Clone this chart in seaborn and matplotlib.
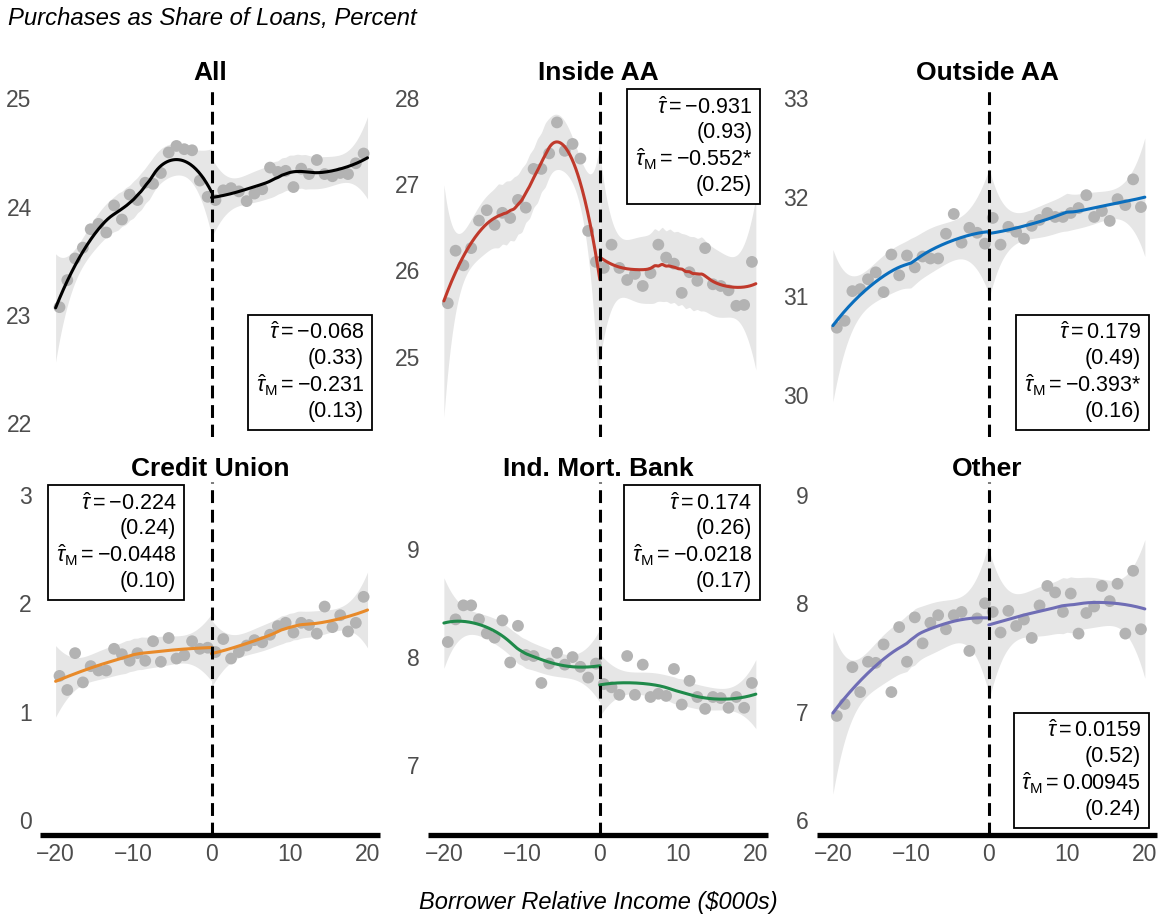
import numpy as np
import pandas as pd
import matplotlib
matplotlib.use("Agg")
import matplotlib.pyplot as plt
import seaborn as sns

# ---- data -----------------------------------------------------------------
INCOME_BINS = [-19.5, -18.5, -17.5, -16.5, -15.5, -14.5, -13.5, -12.5, -11.5, -10.5,
               -9.5, -8.5, -7.5, -6.5, -5.5, -4.5, -3.5, -2.5, -1.5, -0.5,
               0.5, 1.5, 2.5, 3.5, 4.5, 5.5, 6.5, 7.5, 8.5, 9.5,
               10.5, 11.5, 12.5, 13.5, 14.5, 15.5, 16.5, 17.5, 18.5, 19.5]

PANELS = ["All", "Inside AA", "Outside AA", "Credit Union", "Ind. Mort. Bank", "Other"]

SHARE_ALL = [23.07, 23.32, 23.52, 23.62, 23.79, 23.84, 23.76, 24.01, 23.88, 24.11,
             24.06, 24.22, 24.21, 24.31, 24.50, 24.56, 24.53, 24.52, 24.24, 24.09,
             24.06, 24.15, 24.17, 24.14, 24.05, 24.12, 24.16, 24.36, 24.32, 24.33,
             24.18, 24.35, 24.30, 24.43, 24.30, 24.28, 24.31, 24.30, 24.40, 24.49]
SHARE_INSIDE = [25.62, 26.23, 26.06, 26.26, 26.58, 26.70, 26.53, 26.67, 26.61, 26.82,
                26.73, 27.18, 27.18, 27.36, 27.72, 27.39, 27.47, 27.30, 26.46, 26.10,
                26.03, 26.30, 26.03, 25.89, 25.96, 25.82, 25.97, 26.30, 26.15, 26.08,
                25.74, 25.98, 25.88, 26.26, 25.84, 25.82, 25.77, 25.59, 25.60, 26.10]
SHARE_OUTSIDE = [30.68, 30.75, 31.05, 31.07, 31.17, 31.24, 31.04, 31.42, 31.21, 31.41,
                 31.29, 31.40, 31.38, 31.38, 31.63, 31.83, 31.54, 31.69, 31.64, 31.53,
                 31.79, 31.52, 31.70, 31.65, 31.58, 31.71, 31.77, 31.84, 31.80, 31.80,
                 31.84, 31.89, 32.02, 31.80, 31.86, 31.76, 31.98, 31.92, 32.18, 31.90]
SHARE_CU = [1.33, 1.20, 1.54, 1.27, 1.42, 1.38, 1.38, 1.58, 1.53, 1.47,
            1.54, 1.47, 1.65, 1.46, 1.68, 1.49, 1.52, 1.65, 1.58, 1.59,
            1.55, 1.67, 1.49, 1.55, 1.61, 1.66, 1.64, 1.71, 1.79, 1.82,
            1.73, 1.82, 1.80, 1.72, 1.97, 1.78, 1.89, 1.74, 1.82, 2.06]
SHARE_IMB = [8.14, 8.35, 8.48, 8.48, 8.35, 8.22, 8.18, 8.34, 7.95, 8.29,
             8.02, 8.01, 7.76, 7.94, 8.04, 7.93, 8.00, 7.91, 7.81, 7.94,
             7.75, 7.72, 7.65, 8.01, 7.65, 7.93, 7.63, 7.66, 7.64, 7.89,
             7.56, 7.78, 7.63, 7.52, 7.63, 7.62, 7.53, 7.63, 7.53, 7.76]
SHARE_OTHER = [6.96, 7.07, 7.41, 7.18, 7.46, 7.45, 7.62, 7.18, 7.78, 7.46,
               7.87, 7.63, 7.82, 7.89, 7.76, 7.89, 7.92, 7.56, 7.86, 8.00,
               7.92, 7.73, 7.93, 7.79, 7.85, 7.68, 7.98, 8.16, 8.10, 7.92,
               8.09, 7.72, 7.91, 7.97, 8.16, 8.02, 8.18, 7.72, 8.30, 7.76]
SHARES = [SHARE_ALL, SHARE_INSIDE, SHARE_OUTSIDE, SHARE_CU, SHARE_IMB, SHARE_OTHER]

# loess span used for each panel
SPANS = [0.8, 0.7, 1.0, 0.9, 0.95, 0.95]

# half-width of the 95% band: at x = -10 / +10, at the outer edge (x = -20 / +20)
# and at the cutoff (x = 0), for the left and right sides
BAND_MID_LEFT = [0.17, 0.37, 0.25, 0.15, 0.13, 0.25]
BAND_MID_RIGHT = [0.16, 0.43, 0.19, 0.13, 0.12, 0.25]
BAND_OUTER_LEFT = [0.50, 1.35, 0.77, 0.33, 0.42, 0.75]
BAND_INNER_LEFT = [0.40, 1.60, 0.63, 0.31, 0.34, 0.70]
BAND_INNER_RIGHT = [0.37, 1.20, 0.67, 0.31, 0.29, 0.70]
BAND_OUTER_RIGHT = [0.38, 1.00, 0.60, 0.35, 0.32, 0.64]

TAU = ["-0.068", "-0.931", "0.179", "-0.224", "0.174", "0.0159"]
TAU_SE = ["0.33", "0.93", "0.49", "0.24", "0.26", "0.52"]
TAU_M = ["-0.231", "-0.552", "-0.393", "-0.0448", "-0.0218", "0.00945"]
TAU_M_STAR = [False, True, True, False, False, False]
TAU_M_SE = ["0.13", "0.25", "0.16", "0.10", "0.17", "0.24"]
BOX_LOC = ["lower right", "upper right", "lower right", "upper left", "upper right", "lower right"]

Y_TICKS = [[22, 23, 24, 25], [25, 26, 27, 28], [30, 31, 32, 33],
           [0, 1, 2, 3], [7, 8, 9], [6, 7, 8, 9]]
Y_LIMITS = [(21.87, 25.114), (24.066, 28.143), (29.575, 33.124),
            (-0.139, 3.12), (6.35, 9.624), (5.86, 9.12)]
X_TICKS = [-20, -10, 0, 10, 20]

COLORS = ["#000000", "#C0392B", "#0A6EBD", "#E88A2A", "#1F8A4A", "#6F6DB5"]


# ---- local quadratic regression (loess) -------------------------------------
def loess_weights(x, x_eval, span, degree=2):
    x = np.asarray(x, float)
    q = min(len(x), int(np.floor(len(x) * span)))
    rows = []
    for x0 in x_eval:
        d = np.abs(x - x0)
        h = np.sort(d)[q - 1] * max(1.0001, span)
        w = np.clip(1 - (d / h) ** 3, 0, None) ** 3
        X = np.vander(x - x0, degree + 1, increasing=True)
        XtW = X.T * w
        rows.append(np.linalg.solve(XtW @ X, XtW)[0])
    return np.array(rows)


def smooth_side(x, y, lo, hi, mid, outer_x, span, band_mid, band_outer, band_inner):
    grid = np.linspace(lo, hi, 240)
    L = loess_weights(x, grid, span)
    fit = L @ np.asarray(y, float)
    prof = np.sqrt((L ** 2).sum(axis=1))
    p_mid = np.interp(mid, grid, prof)
    p_out = prof[0] if outer_x == lo else prof[-1]
    p_in = prof[-1] if outer_x == lo else prof[0]
    k_out = np.log(band_outer / band_mid) / np.log(p_out / p_mid)
    k_in = np.log(band_inner / band_mid) / np.log(p_in / p_mid)
    outer_half = np.abs(grid - outer_x) < np.abs(mid - outer_x)
    k = np.where(outer_half, k_out, k_in)
    hw = band_mid * (prof / p_mid) ** k
    return grid, fit, fit - hw, fit + hw


# ---- style ------------------------------------------------------------------
sns.set_theme(style="white")
plt.rcParams["font.family"] = ["Liberation Sans", "DejaVu Sans"]
plt.rcParams["text.color"] = "black"
plt.rcParams["mathtext.fontset"] = "custom"
plt.rcParams["mathtext.rm"] = "Liberation Sans"
plt.rcParams["mathtext.it"] = "Liberation Sans:italic"
plt.rcParams["mathtext.bf"] = "Liberation Sans:bold"

W, H = 1164, 917
fig = plt.figure(figsize=(W / 100, H / 100), dpi=100)

col_left = [40, 428.3, 817.3]
row_top = [86, 482]
row_height = [351, 353]
panel_w = 340

tick_gray = "#4D4D4D"

for i, name in enumerate(PANELS):
    r, c = divmod(i, 3)
    ax = fig.add_axes([col_left[c] / W, 1 - (row_top[r] + row_height[r]) / H,
                       panel_w / W, row_height[r] / H])
    x = np.array(INCOME_BINS)
    y = np.array(SHARES[i])
    df = pd.DataFrame({"income": x, "share": y})

    left = x < 0
    gL, fL, loL, hiL = smooth_side(x[left], y[left], -20, 0, -10, -20, SPANS[i],
                                   BAND_MID_LEFT[i], BAND_OUTER_LEFT[i], BAND_INNER_LEFT[i])
    gR, fR, loR, hiR = smooth_side(x[~left], y[~left], 0, 20, 10, 20, SPANS[i],
                                   BAND_MID_RIGHT[i], BAND_OUTER_RIGHT[i], BAND_INNER_RIGHT[i])

    for g, lo, hi in [(gL, loL, hiL), (gR, loR, hiR)]:
        ax.fill_between(g, lo, hi, color="#E6E6E6", lw=0, zorder=1)

    sns.scatterplot(data=df, x="income", y="share", ax=ax, color="#B3B3B3",
                    s=72, edgecolor="none", linewidth=0, zorder=2, legend=False)

    for g, f in [(gL, fL), (gR, fR)]:
        sns.lineplot(x=g, y=f, ax=ax, color=COLORS[i], lw=2.2, zorder=3,
                     estimator=None, sort=False)

    ax.axvline(0, color="black", lw=2.2, ls=(0, (4.2, 2.2)), zorder=4)

    ax.set_xlim(-22.0, 21.6)
    ax.set_ylim(*Y_LIMITS[i])
    ax.set_yticks(Y_TICKS[i])
    ax.set_xticks(X_TICKS)
    ax.set_xticklabels(["\u221220", "\u221210", "0", "10", "20"])
    ax.set_xlabel("")
    ax.set_ylabel("")
    ax.tick_params(axis="both", length=0, labelsize=16.5, labelcolor=tick_gray, pad=6)
    for side in ["top", "right", "left"]:
        ax.spines[side].set_visible(False)
    if r == 0:
        ax.spines["bottom"].set_visible(False)
        ax.tick_params(axis="x", labelbottom=False)
    else:
        ax.spines["bottom"].set_linewidth(3.8)
        ax.spines["bottom"].set_color("black")
        ax.spines["bottom"].set_capstyle("butt")
    ax.set_title(name, fontsize=19, fontweight="bold", color="black", pad=4)

    star = "*" if TAU_M_STAR[i] else ""
    label = (r"$\hat{\tau} = " + TAU[i] + "$\n"
             + "(" + TAU_SE[i] + ")\n"
             + r"$\hat{\tau}_{\mathrm{M}} = " + TAU_M[i] + "$" + star + "\n"
             + "(" + TAU_M_SE[i] + ")")
    loc = BOX_LOC[i]
    xa = 0.0 if "left" in loc else 1.0
    ya = 1.0 if "upper" in loc else 0.0
    dx = 16 if xa == 0 else -16
    dy = -11 if ya == 1 else 15
    ax.annotate(label, xy=(xa, ya), xycoords="axes fraction",
                xytext=(dx, dy), textcoords="offset pixels",
                ha="left" if xa == 0 else "right",
                va="top" if ya == 1 else "bottom",
                multialignment="right", fontsize=15.5, linespacing=1.2,
                color="black",
                bbox=dict(boxstyle="square,pad=0.35", fc="white", ec="black", lw=1.3),
                zorder=5)

fig.text(8 / W, 1 - 18 / H, "Purchases as Share of Loans, Percent",
         fontsize=17.2, style="italic", ha="left", va="center", color="black")
fig.text(598 / W, 1 - 903 / H, "Borrower Relative Income ($000s)",
         fontsize=17, style="italic", ha="center", va="center", color="black")

fig.savefig("out.png", dpi=100)
